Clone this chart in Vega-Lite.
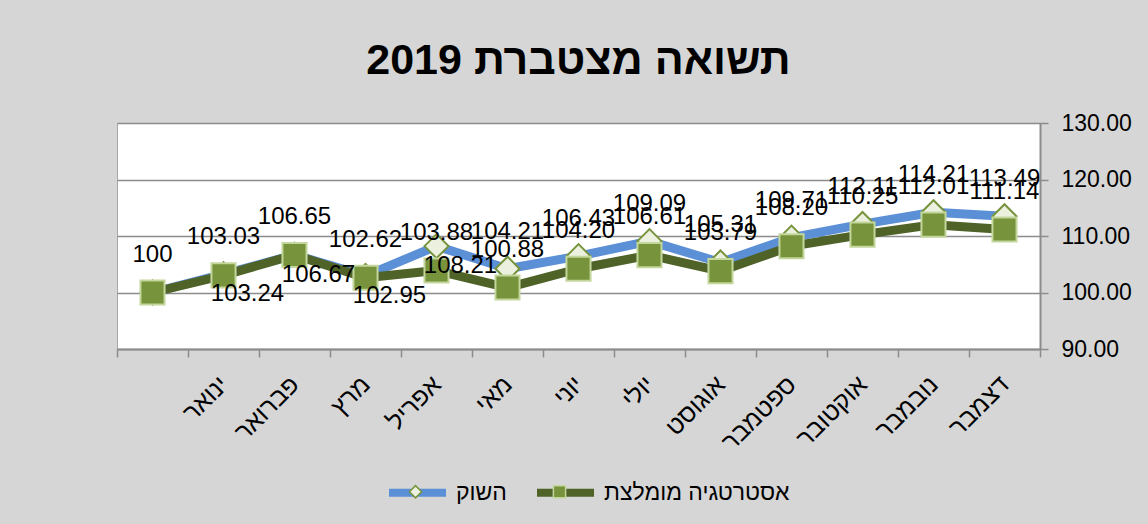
{
  "$schema": "https://vega.github.io/schema/vega-lite/v6.json",
  "width": 923,
  "height": 226,
  "autosize": {"type": "none"},
  "padding": {"left": 117, "top": 123, "right": 108, "bottom": 175},
  "background": "#d6d6d6",
  "config": {
    "font": "Liberation Sans",
    "view": {"fill": "white", "stroke": "#a6a6a6", "strokeWidth": 1}
  },
  "title": {
    "text": "תשואה מצטברת 2019",
    "fontSize": 43,
    "fontWeight": "bold",
    "font": "Liberation Sans",
    "color": "black",
    "anchor": "middle",
    "baseline": "alphabetic",
    "offset": -5
  },
  "data": {
    "values": [
      {"idx": 0, "month": " ", "market": 100, "strategy": 100},
      {"idx": 1, "month": "ינואר", "market": 103.24, "strategy": 103.03},
      {"idx": 2, "month": "פברואר", "market": 106.67, "strategy": 106.65},
      {"idx": 3, "month": "מרץ", "market": 102.95, "strategy": 102.62},
      {"idx": 4, "month": "אפריל", "market": 108.21, "strategy": 103.88},
      {"idx": 5, "month": "מאי", "market": 104.21, "strategy": 100.88},
      {"idx": 6, "month": "יוני", "market": 106.43, "strategy": 104.20},
      {"idx": 7, "month": "יולי", "market": 109.09, "strategy": 106.61},
      {"idx": 8, "month": "אוגוסט", "market": 105.31, "strategy": 103.79},
      {"idx": 9, "month": "ספטמבר", "market": 109.71, "strategy": 108.20},
      {"idx": 10, "month": "אוקטובר", "market": 112.11, "strategy": 110.25},
      {"idx": 11, "month": "נובמבר", "market": 114.21, "strategy": 112.01},
      {"idx": 12, "month": "דצמבר", "market": 113.49, "strategy": 111.14}
    ]
  },
  "encoding": {
    "x": {
      "field": "month",
      "type": "nominal",
      "sort": null,
      "scale": {
        "domain": [" ", "ינואר", "פברואר", "מרץ", "אפריל", "מאי", "יוני", "יולי", "אוגוסט", "ספטמבר", "אוקטובר", "נובמבר", "דצמבר"],
        "paddingInner": 0,
        "paddingOuter": 0
      },
      "axis": {
        "title": null,
        "labelAngle": -45,
        "labelAlign": "right",
        "labelBaseline": "middle",
        "labelFontSize": 25,
        "labelColor": "black",
        "labelPadding": 23,
        "tickBand": "extent",
        "tickSize": 8,
        "tickColor": "#8c8c8c",
        "tickWidth": 1.5,
        "domainColor": "#8c8c8c",
        "domainWidth": 2,
        "grid": false
      }
    }
  },
  "layer": [
    {
      "transform": [{"fold": ["market", "strategy"], "as": ["series", "value"]}],
      "mark": {"type": "line", "strokeWidth": 9, "strokeJoin": "round", "strokeCap": "round"},
      "encoding": {
        "y": {
          "field": "value",
          "type": "quantitative",
          "scale": {"domain": [90, 130]},
          "axis": {"orient": "right", "title": null, "values": [90, 100, 110, 120, 130], "format": ".2f", "labelFontSize": 23, "labelColor": "black", "labelPadding": 13, "tickSize": 8, "tickColor": "#8c8c8c", "tickWidth": 1.5, "domainColor": "#8c8c8c", "domainWidth": 2, "grid": true, "gridColor": "#8c8c8c", "gridWidth": 1.5}
        },
        "color": {
          "field": "series",
          "type": "nominal",
          "scale": {"range": ["#5B8FD6", "#4F6228"]},
          "legend": {
            "orient": "none",
            "legendX": 268,
            "legendY": 337,
            "direction": "horizontal",
            "title": null,
            "symbolType": "stroke",
            "symbolSize": 3249,
            "symbolStrokeWidth": 8,
            "labelFontSize": 23,
            "labelLimit": 400,
            "labelColor": "black",
            "labelOffset": 6,
            "columnPadding": 14,
            "labelExpr": "datum.label == 'market' ? 'השוק' : 'אסטרטגיה מומלצת'"
          }
        }
      }
    },
    {
      "transform": [{"fold": ["market", "strategy"], "as": ["series_m", "value_m"]}],
      "mark": {"type": "point", "filled": true, "size": 580, "strokeWidth": 2, "opacity": 1},
      "encoding": {
        "y": {
          "field": "value_m", "type": "quantitative", "scale": {"domain": [90, 130]},
          "axis": {"orient": "right", "title": null, "values": [90, 100, 110, 120, 130], "format": ".2f", "labelFontSize": 23, "labelColor": "black", "labelPadding": 13, "tickSize": 8, "tickColor": "#8c8c8c", "tickWidth": 1.5, "domainColor": "#8c8c8c", "domainWidth": 2, "grid": true, "gridColor": "#8c8c8c", "gridWidth": 1.5}
        },
        "shape": {
          "field": "series_m",
          "type": "nominal",
          "scale": {"range": ["diamond", "square"]},
          "legend": {
            "orient": "none",
            "legendX": 268,
            "legendY": 357,
            "direction": "horizontal",
            "title": null,
            "symbolSize": 150,
            "symbolOffset": 19,
            "symbolStrokeWidth": 1.5,
            "labelFontSize": 23,
            "labelLimit": 400,
            "labelOpacity": 0,
            "labelOffset": 51,
            "columnPadding": -3,
            "labelExpr": "datum.label == 'market' ? 'השוק' : 'אסטרטגיה מומלצת'"
          }
        },
        "fill": {
          "field": "series_m",
          "type": "nominal",
          "scale": {"range": ["#EBF1DE", "#77933C"]}
        },
        "stroke": {
          "field": "series_m",
          "type": "nominal",
          "scale": {"range": ["#77933C", "#C3D69B"]}
        }
      }
    },
    {
      "transform": [{"filter": "datum.idx >= 1"}],
      "mark": {"type": "text", "fontSize": 24, "color": "black", "baseline": "middle", "dy": -38},
      "encoding": {
        "y": {"field": "strategy", "type": "quantitative", "scale": {"domain": [90, 130]},
          "axis": {"orient": "right", "title": null, "values": [90, 100, 110, 120, 130], "format": ".2f", "labelFontSize": 23, "labelColor": "black", "labelPadding": 13, "tickSize": 8, "tickColor": "#8c8c8c", "tickWidth": 1.5, "domainColor": "#8c8c8c", "domainWidth": 2, "grid": true, "gridColor": "#8c8c8c", "gridWidth": 1.5}},
        "text": {"field": "strategy", "type": "quantitative", "format": ".2f"}
      }
    },
    {
      "transform": [{"filter": "datum.idx == 0"}],
      "mark": {"type": "text", "fontSize": 24, "color": "black", "baseline": "middle", "dy": -38},
      "encoding": {
        "y": {"field": "strategy", "type": "quantitative", "scale": {"domain": [90, 130]},
          "axis": {"orient": "right", "title": null, "values": [90, 100, 110, 120, 130], "format": ".2f", "labelFontSize": 23, "labelColor": "black", "labelPadding": 13, "tickSize": 8, "tickColor": "#8c8c8c", "tickWidth": 1.5, "domainColor": "#8c8c8c", "domainWidth": 2, "grid": true, "gridColor": "#8c8c8c", "gridWidth": 1.5}},
        "text": {"field": "strategy", "type": "quantitative"}
      }
    },
    {
      "transform": [{"filter": "datum.idx >= 1 && datum.idx <= 4"}],
      "mark": {"type": "text", "fontSize": 24, "color": "black", "baseline": "middle", "dy": 20, "dx": 24},
      "encoding": {
        "y": {"field": "market", "type": "quantitative", "scale": {"domain": [90, 130]},
          "axis": {"orient": "right", "title": null, "values": [90, 100, 110, 120, 130], "format": ".2f", "labelFontSize": 23, "labelColor": "black", "labelPadding": 13, "tickSize": 8, "tickColor": "#8c8c8c", "tickWidth": 1.5, "domainColor": "#8c8c8c", "domainWidth": 2, "grid": true, "gridColor": "#8c8c8c", "gridWidth": 1.5}},
        "text": {"field": "market", "type": "quantitative", "format": ".2f"}
      }
    },
    {
      "transform": [{"filter": "datum.idx >= 5"}],
      "mark": {"type": "text", "fontSize": 24, "color": "black", "baseline": "middle", "dy": -37},
      "encoding": {
        "y": {"field": "market", "type": "quantitative", "scale": {"domain": [90, 130]},
          "axis": {"orient": "right", "title": null, "values": [90, 100, 110, 120, 130], "format": ".2f", "labelFontSize": 23, "labelColor": "black", "labelPadding": 13, "tickSize": 8, "tickColor": "#8c8c8c", "tickWidth": 1.5, "domainColor": "#8c8c8c", "domainWidth": 2, "grid": true, "gridColor": "#8c8c8c", "gridWidth": 1.5}},
        "text": {"field": "market", "type": "quantitative", "format": ".2f"}
      }
    }
  ]
}
